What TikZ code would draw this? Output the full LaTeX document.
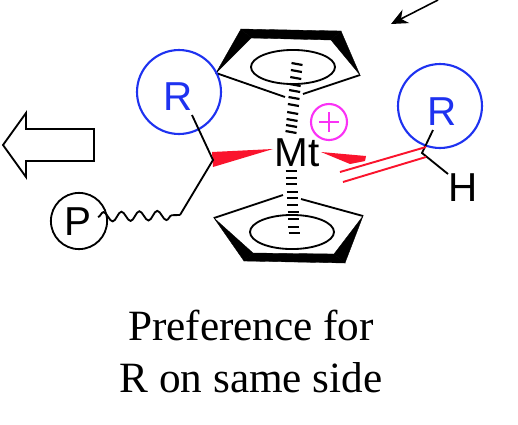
\documentclass[tikz,border=0pt]{standalone}
\usepackage{fontspec}
\setmainfont{Liberation Serif}
\setsansfont{Liberation Sans}
\usetikzlibrary{arrows.meta, decorations.pathmorphing, shapes.geometric}
\definecolor{ringblue}{RGB}{30,50,240}
\definecolor{wedgered}{RGB}{250,20,45}
\definecolor{chargepink}{RGB}{250,50,245}

\begin{document}
\begin{tikzpicture}[x=0.02cm, y=-0.02cm,
    every node/.style={inner sep=0pt, outer sep=0pt},
    atom/.style={font=\sffamily\fontsize{23}{23}\selectfont},
    bond/.style={draw=black, line width=1.05pt},
    hashbar/.style={draw=black, line width=1.25pt},
    ring/.style={circle, draw=ringblue, line width=1.2pt, minimum size=47.8pt},
    redbond/.style={draw=wedgered, line width=1.1pt},
    ringwedge/.style={fill=black, draw=black, line width=0.2pt}]
    \useasboundingbox (0,0) rectangle (518,424);

    \coordinate (tl) at (216,73);
    \coordinate (ta) at (241,29);
    \coordinate (tb) at (341,31);
    \coordinate (tr) at (360,75);
    \coordinate (tc) at (251,38);
    \coordinate (td) at (331,40);
    \coordinate (tf) at (285,97);
    \coordinate (tg) at (303,94);
    \fill[ringwedge] (tl) -- (ta) -- (tc) -- cycle;
    \fill[ringwedge] (ta) -- (tb) -- (td) -- (tc) -- cycle;
    \fill[ringwedge] (tb) -- (tr) -- (td) -- cycle;
    \draw[bond] (tl) -- (tf);
    \draw[bond] (tr) -- (tg);
    \node[draw, ellipse, line width=1.05pt, minimum width=47.8pt, minimum height=19.4pt] (topoval) at (293,67) {};

    \coordinate (bl) at (214,218);
    \coordinate (ba) at (244,261);
    \coordinate (bb) at (345,263);
    \coordinate (br) at (363,216);
    \coordinate (bc) at (253,253);
    \coordinate (bd) at (334,254);
    \coordinate (bf) at (283,195);
    \coordinate (bg) at (301,199);
    \fill[ringwedge] (bl) -- (ba) -- (bc) -- cycle;
    \fill[ringwedge] (ba) -- (bb) -- (bd) -- (bc) -- cycle;
    \fill[ringwedge] (bb) -- (br) -- (bd) -- cycle;
    \draw[bond] (bl) -- (bf);
    \draw[bond] (br) -- (bg);
    \node[draw, ellipse, line width=1.05pt, minimum width=47.8pt, minimum height=19.4pt] (botoval) at (292,232) {};

    \foreach \y in {64,71,78,85,91,98,105,113,120,126,132}
      \draw[hashbar] ({297-0.088*(\y-64)-5.5},\y-1) -- ({297-0.088*(\y-64)+5.5},\y+1);
    \foreach \y in {171,178,184,192,198,205,212,219,227,233}
      \draw[hashbar] ({291+0.05*(\y-171)-5.5},\y) -- ({291+0.05*(\y-171)+5.5},\y);

    \node[atom] (mt) at (297,153) {Mt};
    \node[circle, draw=chargepink, line width=1.2pt, minimum size=20.5pt] (charge) at (329,122) {};
    \draw[draw=chargepink, line width=0.9pt] (319,122) -- (339,122);
    \draw[draw=chargepink, line width=0.9pt] (329,112) -- (329,132);

    \coordinate (cstar) at (213,160);
    \coordinate (clink) at (180,215);
    \fill[wedgered] (212,152) -- (273,149) -- (213,167) -- cycle;
    \fill[wedgered] (321,152) -- (366,156) -- (365,161) -- (350,164) -- cycle;

    \node[ring] (rleft) at (179,92) {};
    \node[atom, text=ringblue] (rlefttext) at (178,97) {R};
    \coordinate (rleftend) at (192,115);
    \draw[bond] (rleftend) -- (cstar) -- (clink);

    \node[circle, draw, line width=1.05pt, minimum size=32pt] (pol) at (79,221) {};
    \node[atom] (poltext) at (78,222) {P};
    \coordinate (polend) at (98,217);
    \draw[bond, decorate, decoration={snake, segment length=10.2pt, amplitude=2.7pt}] (polend) -- (clink);

    \node[ring] (rright) at (440,106) {};
    \node[atom, text=ringblue] (rrighttext) at (442,112) {R};
    \node[atom] (hatom) at (463,188) {H};
    \coordinate (calkene) at (422,153);
    \coordinate (rrightend) at (433,130);
    \coordinate (hend) at (448,174);
    \draw[bond] (rrightend) -- (calkene) -- (hend);
    \coordinate (dba) at (340,172);
    \coordinate (dbb) at (426,147);
    \coordinate (dbc) at (343,182);
    \coordinate (dbd) at (426,157);
    \draw[redbond] (dba) -- (dbb);
    \draw[redbond] (dbc) -- (dbd);

    \draw[line width=1.05pt] (3,145) -- (26,113) -- (26,129) -- (94,129) -- (94,161) -- (26,161) -- (26,177) -- cycle;
    \coordinate (arrowstart) at (438,0);
    \coordinate (arrowtip) at (391,24);
    \draw[line width=0.9pt, -{Stealth[length=9.5pt, width=8.5pt]}] (arrowstart) -- (arrowtip);

    \node[align=center, font=\fontsize{24.6}{29.6}\selectfont] (caption) at (251,351) {Preference for\\R on same side};
\end{tikzpicture}
\end{document}
